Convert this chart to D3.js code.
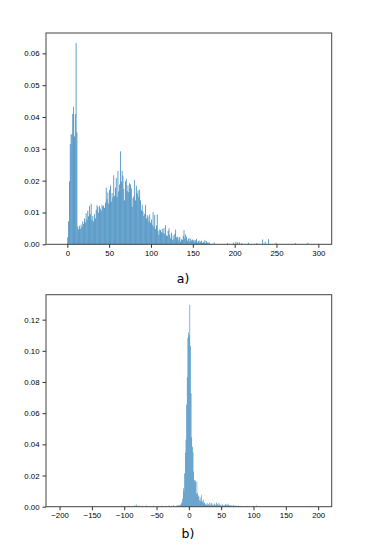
<!DOCTYPE html>
<html lang="en">
<head>
<meta charset="UTF-8">
<title>Histograms a) and b)</title>
<script src="https://d3js.org/d3.v7.min.js"></script>
<style>
    body { margin: 0; padding: 0; background: #fff; }
    svg { display: block; font-family: "DejaVu Sans", sans-serif; }
    .tick line { stroke: #333; }
    .tick text { font-size: 7.8px; fill: #000; }
    .caption { font-size: 12.5px; fill: #000; }
</style>
</head>
<body>
<div id="chart"></div>
<script>
// panel a) : bins of width 1, starting at 0
const aStart = 0;
const aValues = [
    0.0022, 0.0072, 0.0198, 0.0315, 0.0345, 0.0346, 0.0410, 0.0432, 0.0339, 0.0409,
    0.0633, 0.0352, 0.0056, 0.0047, 0.0058, 0.0049, 0.0062, 0.0055, 0.0072, 0.0064,
    0.0081, 0.0069, 0.0098, 0.0078, 0.0106, 0.0088, 0.0121, 0.0094, 0.0128, 0.0076,
    0.0089, 0.0072, 0.0095, 0.0081, 0.0108, 0.0123, 0.0117, 0.0099, 0.0121, 0.0112,
    0.0105, 0.0124, 0.0118, 0.0122, 0.0114, 0.0131, 0.0178, 0.0142, 0.0163, 0.0128,
    0.0171, 0.0185, 0.0134, 0.0161, 0.0147, 0.0217, 0.0152, 0.0178, 0.0208, 0.0149,
    0.0231, 0.0166, 0.0188, 0.0292, 0.0197, 0.0231, 0.0216, 0.0174, 0.0138, 0.0198,
    0.0206, 0.0167, 0.0185, 0.0164, 0.0192, 0.0188, 0.0176, 0.0118, 0.0145, 0.0151,
    0.0202, 0.0138, 0.0184, 0.0159, 0.0169, 0.0149, 0.0172, 0.0138, 0.0107, 0.0124,
    0.0103, 0.0089, 0.0096, 0.0124, 0.0081, 0.0092, 0.0087, 0.0072, 0.0094, 0.0068,
    0.0078, 0.0061, 0.0101, 0.0055, 0.0092, 0.0048, 0.0059, 0.0094, 0.0042, 0.0030,
    0.0047, 0.0045, 0.0038, 0.0049, 0.0035, 0.0051, 0.0033, 0.0060, 0.0028, 0.0026,
    0.0042, 0.0050, 0.0031, 0.0019, 0.0036, 0.0014, 0.0028, 0.0016, 0.0033, 0.0046,
    0.0022, 0.0024, 0.0012, 0.0021, 0.0023, 0.0009, 0.0016, 0.0014, 0.0027, 0.0045,
    0.0018, 0.0031, 0.0024, 0.0011, 0.0017, 0.0019, 0.0008, 0.0018, 0.0012, 0.0015,
    0.0011, 0.0014, 0.0007, 0.0013, 0.0017, 0.0006, 0.0010, 0.0012, 0.0005, 0.0009,
    0.0011, 0.0004, 0.0008, 0.0006, 0.0014, 0.0003, 0.0010, 0.0005, 0.0003, 0.0007,
    0.0002
];
// sparse bins of the long right tail of a): [bin, value]
const aTail = [
    [175, 0.0006], [191, 0.0004], [198, 0.0005], [201, 0.0008], [203, 0.0006],
    [205, 0.0007], [208, 0.0004], [216, 0.0005], [226, 0.0004], [233, 0.0015],
    [236, 0.0008], [240, 0.0016], [249, 0.0005], [272, 0.0004], [287, 0.0005]
];
const aXTicks = [0, 50, 100, 150, 200, 250, 300];
const aYTicks = [0, 0.01, 0.02, 0.03, 0.04, 0.05, 0.06];

// panel b) : bins of width 1, starting at -20
const bStart = -20;
const bValues = [
    0.0006, 0.0003, 0.0008, 0.0005, 0.0011, 0.0007, 0.0014, 0.0009, 0.0021, 0.0030,
    0.0052, 0.0118, 0.0098, 0.0214, 0.0345, 0.0430, 0.0655, 0.0830, 0.1085, 0.1118,
    0.1102, 0.1295, 0.1031, 0.0728, 0.0445, 0.0385, 0.0352, 0.0226, 0.0172, 0.0158,
    0.0168, 0.0082, 0.0161, 0.0088, 0.0064, 0.0072, 0.0041, 0.0058, 0.0035, 0.0074,
    0.0039, 0.0029, 0.0045, 0.0021, 0.0026, 0.0014, 0.0019, 0.0011, 0.0023, 0.0009,
    0.0016, 0.0012, 0.0028, 0.0008, 0.0019, 0.0024, 0.0010, 0.0015, 0.0006, 0.0021,
    0.0013, 0.0009, 0.0026, 0.0011, 0.0017, 0.0007, 0.0023, 0.0014, 0.0008, 0.0012,
    0.0005, 0.0016, 0.0009, 0.0004, 0.0011, 0.0007, 0.0018, 0.0006, 0.0013, 0.0008,
    0.0019, 0.0010, 0.0004, 0.0012, 0.0007, 0.0005, 0.0009, 0.0003, 0.0006, 0.0011,
    0.0004, 0.0008, 0.0003, 0.0006, 0.0002, 0.0005, 0.0007, 0.0003, 0.0004, 0.0002,
    0.0005
];
// sparse bins of both tails of b): [bin, value]
const bTail = [
    [-198, 0.0003], [-192, 0.0002], [-185, 0.0004], [-176, 0.0003], [-168, 0.0002],
    [-160, 0.0004], [-151, 0.0003], [-146, 0.0005], [-139, 0.0002], [-131, 0.0004],
    [-124, 0.0003], [-117, 0.0005], [-112, 0.0003], [-104, 0.0006], [-99, 0.0004],
    [-93, 0.0007], [-88, 0.0005], [-84, 0.0010], [-81, 0.0014], [-77, 0.0008],
    [-72, 0.0006], [-66, 0.0009], [-60, 0.0004], [-55, 0.0007], [-48, 0.0005],
    [-42, 0.0008], [-36, 0.0006], [-31, 0.0009], [-27, 0.0005], [-24, 0.0010],
    [84, 0.0004], [89, 0.0006], [95, 0.0003], [99, 0.0005], [104, 0.0008],
    [110, 0.0003], [118, 0.0004], [127, 0.0002], [135, 0.0003], [146, 0.0002],
    [158, 0.0003], [170, 0.0002], [176, 0.0004], [183, 0.0003], [189, 0.0005],
    [195, 0.0003]
];
const bXTicks = [-200, -150, -100, -50, 0, 50, 100, 150, 200];
const bYTicks = [0, 0.02, 0.04, 0.06, 0.08, 0.10, 0.12];

const W = 369, H = 550;
const svg = d3.select("#chart").append("svg")
    .attr("width", W)
    .attr("height", H);

function panel(opts) {
    const x = d3.scaleLinear().domain(opts.xDomain).range([opts.left, opts.right]);
    const y = d3.scaleLinear().domain(opts.yDomain).range([opts.bottom, opts.top]);

    // turn dense array + sparse tail into one list of bins
    const bins = opts.values.map((v, i) => ({ x0: opts.start + i, v: v }))
        .concat(opts.tail.map(d => ({ x0: d[0], v: d[1] })));

    const g = svg.append("g");

    g.selectAll("rect.bar")
        .data(bins)
        .enter().append("rect")
        .attr("class", "bar")
        .attr("x", d => x(d.x0))
        .attr("width", d => (x(d.x0 + 1) - x(d.x0)) * 0.95)
        .attr("y", d => y(d.v))
        .attr("height", d => y(0) - y(d.v))
        .attr("fill", "#1f77b4")
        .attr("fill-opacity", 0.85);

    // frame (matplotlib spines)
    g.append("rect")
        .attr("x", opts.left).attr("y", opts.top)
        .attr("width", opts.right - opts.left)
        .attr("height", opts.bottom - opts.top)
        .attr("fill", "none")
        .attr("stroke", "#444")
        .attr("stroke-width", 1);

    g.append("g")
        .attr("transform", `translate(0,${opts.bottom})`)
        .call(d3.axisBottom(x).tickValues(opts.xTicks).tickSizeOuter(0)
            .tickSize(3.5).tickPadding(2.5).tickFormat(d3.format("d")))
        .call(a => a.select(".domain").remove());

    g.append("g")
        .attr("transform", `translate(${opts.left},0)`)
        .call(d3.axisLeft(y).tickValues(opts.yTicks).tickSizeOuter(0)
            .tickSize(3.5).tickPadding(3).tickFormat(d3.format(".2f")))
        .call(a => a.select(".domain").remove());

    g.append("text")
        .attr("class", "caption")
        .attr("x", opts.captionX)
        .attr("y", opts.captionY)
        .attr("text-anchor", "middle")
        .text(opts.caption);
}

panel({
    values: aValues, start: aStart, tail: aTail,
    xDomain: [-25.5, 316], yDomain: [0, 0.0664],
    xTicks: aXTicks, yTicks: aYTicks,
    left: 46, right: 331.7, top: 33, bottom: 244.3,
    caption: "a)", captionX: 183, captionY: 283
});

panel({
    values: bValues, start: bStart, tail: bTail,
    xDomain: [-221, 221], yDomain: [0, 0.136],
    xTicks: bXTicks, yTicks: bYTicks,
    left: 46, right: 331.7, top: 294.7, bottom: 506.7,
    caption: "b)", captionX: 188, captionY: 538
});
</script>
</body>
</html>
